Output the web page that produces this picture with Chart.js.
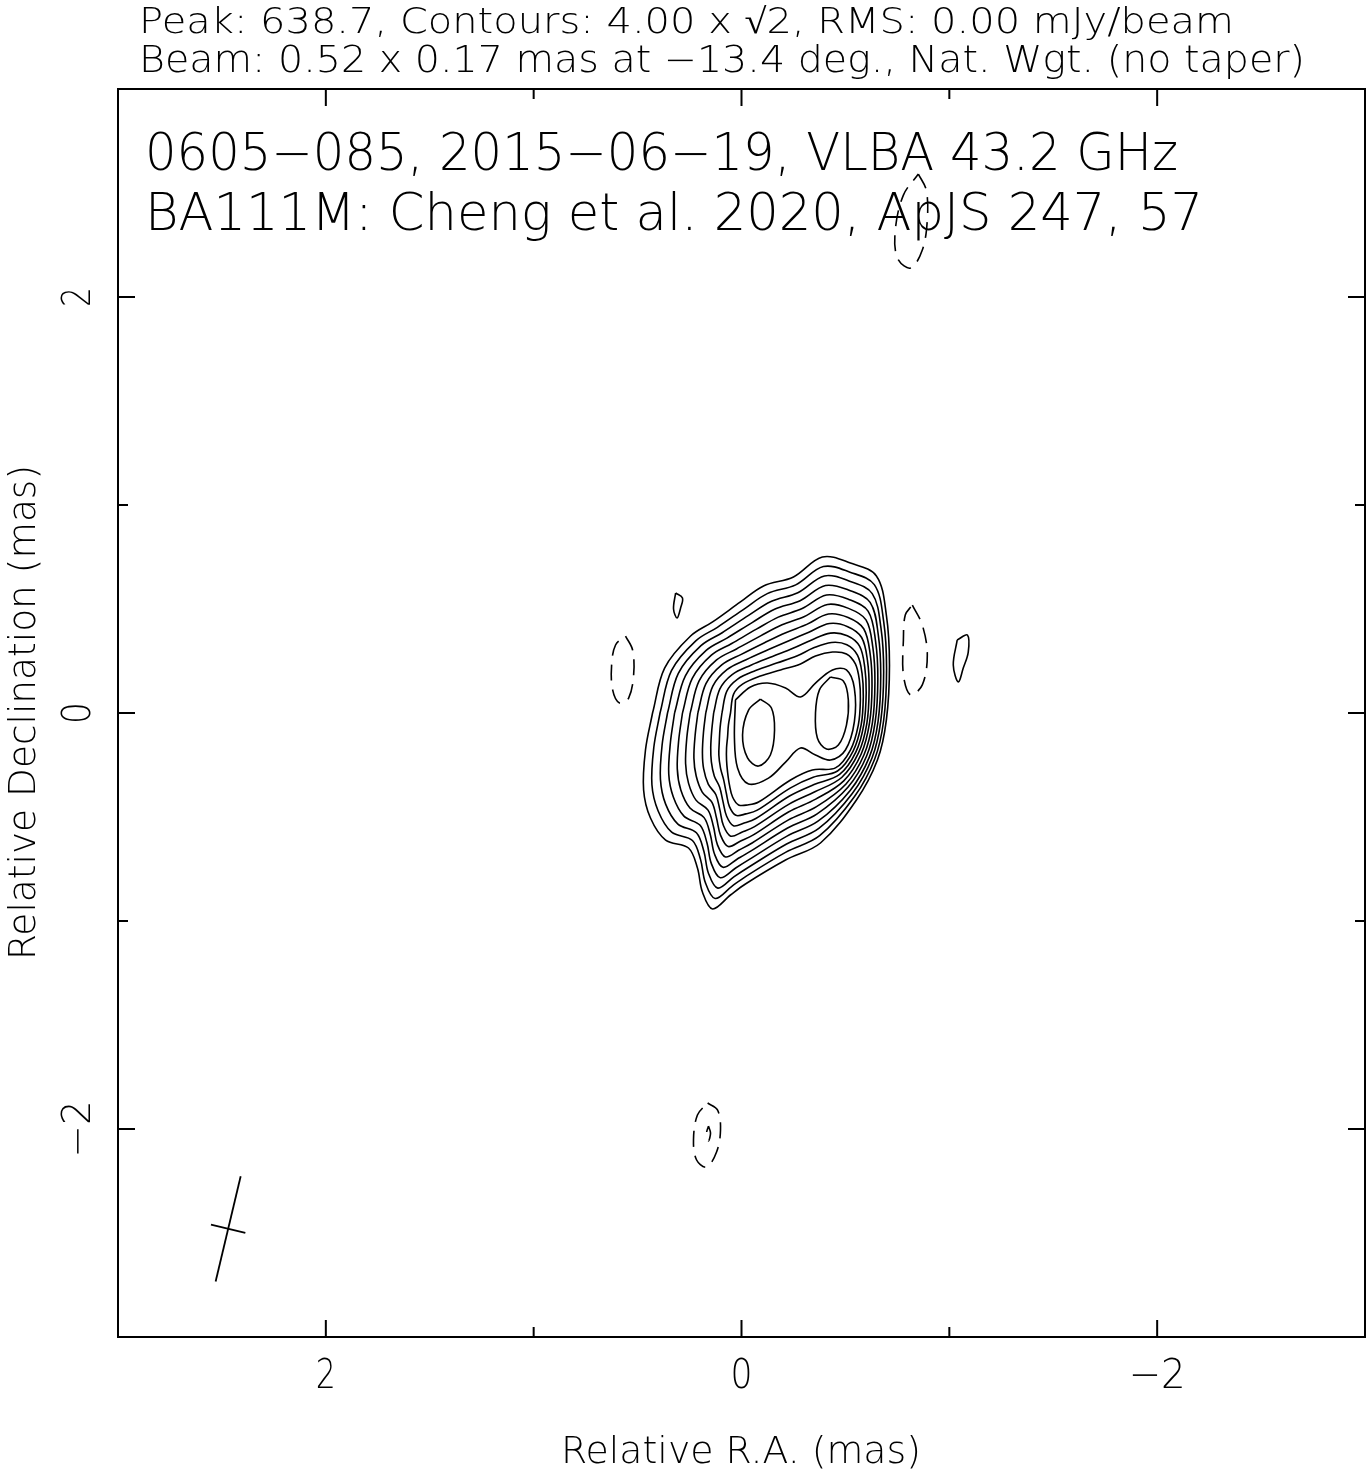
<!DOCTYPE html>
<html>
<head>
<meta charset="utf-8">
<title>0605-085 VLBA 43.2 GHz</title>
<script src="https://cdn.jsdelivr.net/npm/chart.js@4.4.1/dist/chart.umd.min.js"></script>
<style>
  html, body { margin: 0; padding: 0; background: #fff; }
  #map { display: block; }
</style>
</head>
<body>
<canvas id="map" width="1367" height="1472"></canvas>
<script>
// positive contours, outermost (4 mJy/beam) inwards; [relative R.A., relative Dec] in mas
const level01 = [[0.428,0],[0.370,0.216],[0.245,0.370],[0.139,0.438],[0.005,0.534],[-0.106,0.611],[-0.250,0.654],[-0.389,0.750],[-0.524,0.721],[-0.649,0.659],[-0.697,0.471],[-0.712,0.231],[-0.697,-0.034],[-0.654,-0.226],[-0.553,-0.418],[-0.380,-0.625],[-0.212,-0.707],[-0.019,-0.822],[0.053,-0.875],[0.139,-0.942],[0.188,-0.861],[0.212,-0.745],[0.255,-0.649],[0.365,-0.611],[0.438,-0.505],[0.471,-0.370],[0.462,-0.178]];
const level02 = [[0.392,0],[0.337,0.204],[0.220,0.347],[0.116,0.412],[-0.014,0.501],[-0.124,0.574],[-0.261,0.616],[-0.394,0.704],[-0.522,0.677],[-0.639,0.617],[-0.684,0.440],[-0.698,0.214],[-0.684,-0.036],[-0.641,-0.221],[-0.543,-0.403],[-0.376,-0.590],[-0.214,-0.669],[-0.025,-0.783],[0.045,-0.832],[0.127,-0.892],[0.174,-0.815],[0.197,-0.705],[0.236,-0.613],[0.336,-0.573],[0.401,-0.471],[0.431,-0.345],[0.422,-0.166]];
const level03 = [[0.356,0],[0.304,0.191],[0.195,0.324],[0.093,0.386],[-0.034,0.469],[-0.142,0.536],[-0.271,0.578],[-0.399,0.659],[-0.520,0.634],[-0.629,0.574],[-0.671,0.409],[-0.684,0.197],[-0.670,-0.039],[-0.628,-0.216],[-0.533,-0.387],[-0.372,-0.555],[-0.217,-0.630],[-0.032,-0.743],[0.037,-0.788],[0.114,-0.842],[0.159,-0.770],[0.181,-0.665],[0.217,-0.576],[0.306,-0.534],[0.365,-0.438],[0.390,-0.319],[0.382,-0.154]];
const level04 = [[0.322,0],[0.270,0.179],[0.170,0.301],[0.070,0.360],[-0.053,0.436],[-0.159,0.499],[-0.282,0.540],[-0.404,0.613],[-0.518,0.590],[-0.619,0.532],[-0.658,0.377],[-0.670,0.181],[-0.657,-0.041],[-0.615,-0.212],[-0.523,-0.372],[-0.368,-0.520],[-0.219,-0.592],[-0.038,-0.704],[0.028,-0.745],[0.102,-0.792],[0.145,-0.724],[0.166,-0.625],[0.199,-0.540],[0.277,-0.496],[0.328,-0.404],[0.350,-0.294],[0.342,-0.142]];
const level05 = [[0.284,0],[0.237,0.166],[0.145,0.278],[0.047,0.334],[-0.072,0.403],[-0.177,0.461],[-0.292,0.502],[-0.409,0.567],[-0.516,0.546],[-0.609,0.490],[-0.645,0.346],[-0.656,0.164],[-0.643,-0.044],[-0.602,-0.207],[-0.513,-0.356],[-0.364,-0.485],[-0.222,-0.553],[-0.044,-0.664],[0.020,-0.702],[0.089,-0.742],[0.130,-0.678],[0.150,-0.585],[0.180,-0.503],[0.248,-0.457],[0.292,-0.370],[0.309,-0.268],[0.302,-0.130]];
const level06 = [[0.247,0],[0.204,0.154],[0.120,0.255],[0.024,0.308],[-0.092,0.371],[-0.195,0.424],[-0.303,0.464],[-0.414,0.522],[-0.515,0.503],[-0.599,0.448],[-0.632,0.315],[-0.642,0.147],[-0.630,-0.046],[-0.589,-0.202],[-0.503,-0.341],[-0.361,-0.450],[-0.224,-0.515],[-0.051,-0.625],[0.012,-0.659],[0.077,-0.692],[0.116,-0.633],[0.135,-0.546],[0.161,-0.467],[0.219,-0.419],[0.255,-0.337],[0.269,-0.243],[0.263,-0.118]];
const level07 = [[0.210,0],[0.171,0.141],[0.095,0.231],[0.001,0.282],[-0.111,0.338],[-0.213,0.386],[-0.314,0.426],[-0.418,0.476],[-0.513,0.459],[-0.588,0.405],[-0.619,0.284],[-0.628,0.130],[-0.616,-0.048],[-0.576,-0.197],[-0.492,-0.326],[-0.357,-0.414],[-0.226,-0.476],[-0.057,-0.586],[0.004,-0.615],[0.064,-0.642],[0.101,-0.587],[0.120,-0.506],[0.142,-0.430],[0.189,-0.380],[0.218,-0.303],[0.229,-0.217],[0.223,-0.106]];
const level08 = [[0.172,0],[0.138,0.129],[0.070,0.208],[-0.022,0.256],[-0.130,0.305],[-0.231,0.349],[-0.324,0.388],[-0.423,0.430],[-0.511,0.415],[-0.578,0.363],[-0.606,0.253],[-0.614,0.113],[-0.603,-0.051],[-0.563,-0.192],[-0.482,-0.310],[-0.353,-0.379],[-0.229,-0.438],[-0.063,-0.546],[-0.004,-0.572],[0.052,-0.592],[0.087,-0.541],[0.104,-0.466],[0.123,-0.393],[0.160,-0.342],[0.182,-0.269],[0.188,-0.192],[0.183,-0.094]];
const level09 = [[0.134,0],[0.104,0.116],[0.045,0.185],[-0.045,0.230],[-0.149,0.272],[-0.248,0.311],[-0.335,0.350],[-0.428,0.384],[-0.509,0.371],[-0.568,0.321],[-0.593,0.221],[-0.600,0.097],[-0.589,-0.053],[-0.550,-0.188],[-0.472,-0.295],[-0.349,-0.344],[-0.231,-0.399],[-0.069,-0.507],[-0.013,-0.529],[0.039,-0.542],[0.072,-0.495],[0.089,-0.426],[0.105,-0.357],[0.131,-0.303],[0.145,-0.235],[0.148,-0.166],[0.143,-0.082]];
const level10 = [[0.094,0],[0.071,0.104],[0.020,0.162],[-0.068,0.204],[-0.169,0.240],[-0.266,0.274],[-0.345,0.312],[-0.433,0.339],[-0.507,0.328],[-0.558,0.278],[-0.580,0.190],[-0.586,0.080],[-0.576,-0.056],[-0.537,-0.183],[-0.462,-0.279],[-0.345,-0.309],[-0.234,-0.361],[-0.076,-0.467],[-0.021,-0.485],[0.027,-0.492],[0.058,-0.450],[0.073,-0.386],[0.086,-0.320],[0.101,-0.265],[0.109,-0.202],[0.107,-0.141],[0.103,-0.070]];
const level11 = [[0.053,0],[0.038,0.091],[-0.005,0.139],[-0.091,0.178],[-0.188,0.207],[-0.284,0.236],[-0.356,0.274],[-0.438,0.293],[-0.505,0.284],[-0.548,0.236],[-0.567,0.159],[-0.572,0.063],[-0.562,-0.058],[-0.524,-0.178],[-0.452,-0.264],[-0.341,-0.274],[-0.236,-0.322],[-0.082,-0.428],[-0.029,-0.442],[0.014,-0.442],[0.043,-0.404],[0.058,-0.346],[0.067,-0.284],[0.072,-0.226],[0.072,-0.168],[0.067,-0.115],[0.063,-0.058]];
// the two-lobed contour around both peaks
const level12 = [[0.029,0.063],[-0.043,0.125],[-0.125,0.144],[-0.212,0.120],[-0.284,0.077],[-0.356,0.144],[-0.438,0.207],[-0.505,0.207],[-0.543,0.120],[-0.543,-0.043],[-0.500,-0.178],[-0.428,-0.226],[-0.356,-0.202],[-0.284,-0.168],[-0.212,-0.236],[-0.130,-0.313],[-0.034,-0.341],[0.019,-0.264],[0.034,-0.120]];
const coreEast = [[-0.091,0.067],[-0.144,0.024],[-0.159,-0.082],[-0.139,-0.202],[-0.082,-0.255],[-0.029,-0.216],[-0.005,-0.106],[-0.034,0.014]];
const coreWest = [[-0.428,0.173],[-0.490,0.154],[-0.514,0.063],[-0.505,-0.058],[-0.466,-0.154],[-0.409,-0.173],[-0.365,-0.120],[-0.356,0],[-0.375,0.111]];
// small isolated 4 mJy/beam islands
const islandNE = [[0.317,0.577],[0.284,0.553],[0.293,0.505],[0.310,0.457],[0.327,0.500]];
const islandW = [[-1.038,0.351],[-1.087,0.375],[-1.091,0.293],[-1.067,0.216],[-1.043,0.149],[-1.019,0.231]];
// negative (-4 mJy/beam) contours, dashed
const negEast = [[0.558,0.370],[0.524,0.303],[0.519,0.183],[0.543,0.072],[0.587,0.048],[0.620,0.111],[0.625,0.231],[0.606,0.327]];
const negWest = [[-0.822,0.519],[-0.870,0.423],[-0.894,0.279],[-0.870,0.135],[-0.813,0.087],[-0.779,0.183],[-0.779,0.351],[-0.788,0.471]];
const negNorth = [[-0.851,2.591],[-0.889,2.514],[-0.894,2.370],[-0.870,2.226],[-0.813,2.139],[-0.750,2.188],[-0.740,2.322],[-0.779,2.490]];
const negSouth = [[0.163,-1.875],[0.115,-1.909],[0.101,-2.005],[0.120,-2.111],[0.168,-2.183],[0.216,-2.149],[0.231,-2.053],[0.212,-1.933]];
const negSouthInner = [[0.159,-1.986],[0.149,-2.019],[0.159,-2.058],[0.168,-2.019]];

// restoring beam: major, minor (mas), position angle (deg), plotted at
const beamMajor = 0.52;
const beamMinor = 0.17;
const beamPA = -13.4;
const beamCenter = [2.47, -2.48];

const majorTicks = [-2, 0, 2];
const minorTicks = [-1, 1];
const tickLabels = ['\u22122', '0', '2'];

const headerLines = [
  'Peak: 638.7, Contours: 4.00 x \u221A2, RMS: 0.00 mJy/beam',
  'Beam: 0.52 x 0.17 mas at \u221213.4 deg., Nat. Wgt. (no taper)'
];
const mapLabels = [
  '0605\u2212085, 2015\u221206\u221219, VLBA 43.2 GHz',
  'BA111M: Cheng et al. 2020, ApJS 247, 57'
];
const xTitle = 'Relative R.A. (mas)';
const yTitle = 'Relative Declination (mas)';

const toXY = pts => pts.map(([x, y]) => ({ x, y }));
const loop = pts => toXY(pts.concat([pts[0]]));

function contour(pts, dashed) {
  return {
    data: loop(pts),
    showLine: true,
    borderColor: '#000',
    borderWidth: 1.6,
    borderDash: dashed ? [16, 9] : [],
    pointRadius: 0,
    tension: 0.35,
    fill: false
  };
}

function beamLines() {
  const t = beamPA * Math.PI / 180;
  const [cx, cy] = beamCenter;
  const a = beamMajor / 2, b = beamMinor / 2;
  const major = [[cx + a * Math.sin(t), cy + a * Math.cos(t)], [cx - a * Math.sin(t), cy - a * Math.cos(t)]];
  const minor = [[cx + b * Math.cos(t), cy - b * Math.sin(t)], [cx - b * Math.cos(t), cy + b * Math.sin(t)]];
  return [major, minor].map(seg => ({
    data: toXY(seg), showLine: true, borderColor: '#000', borderWidth: 1.8,
    pointRadius: 0, tension: 0, fill: false
  }));
}

const positive = [level01, level02, level03, level04, level05, level06, level07, level08,
  level09, level10, level11, level12, coreEast, coreWest, islandNE, islandW];
const negative = [negEast, negWest, negNorth, negSouth, negSouthInner];

const FONT = '"DejaVu Sans"';

// draw text stretched to the width it has in the original plot
function fitText(ctx, str, x, y, width, cap, rot) {
  const size = cap / 0.73;
  ctx.save();
  ctx.font = '200 ' + size + 'px ' + FONT;
  ctx.fillStyle = '#000';
  ctx.textBaseline = 'alphabetic';
  ctx.textAlign = 'left';
  const w = ctx.measureText(str).width;
  ctx.translate(x, y);
  if (rot) ctx.rotate(rot);
  ctx.scale(width / w, 1);
  ctx.fillText(str, 0, 0);
  ctx.restore();
}

const framePlugin = {
  id: 'frame',
  afterDraw(chart) {
    const { ctx, chartArea: area, scales } = chart;
    const xs = scales.x, ys = scales.y;
    ctx.save();
    ctx.strokeStyle = '#000';
    ctx.lineWidth = 2;
    ctx.strokeRect(area.left, area.top, area.right - area.left, area.bottom - area.top);

    const tick = (v, len) => {
      const px = xs.getPixelForValue(v);
      const py = ys.getPixelForValue(v);
      ctx.beginPath();
      ctx.moveTo(px, area.bottom); ctx.lineTo(px, area.bottom - len);
      ctx.moveTo(px, area.top); ctx.lineTo(px, area.top + len);
      ctx.moveTo(area.left, py); ctx.lineTo(area.left + len, py);
      ctx.moveTo(area.right, py); ctx.lineTo(area.right - len, py);
      ctx.stroke();
    };
    majorTicks.forEach(v => tick(v, 17));
    minorTicks.forEach(v => tick(v, 10));
    ctx.restore();

    const labelWidths = { '\u22122': 57, '0': 22, '2': 20 };
    majorTicks.forEach((v, i) => {
      const s = tickLabels[i];
      const w = labelWidths[s];
      fitText(ctx, s, xs.getPixelForValue(v) - w / 2, 1388, w, 30);
      fitText(ctx, s, 90, ys.getPixelForValue(v) + w / 2, w, 28, -Math.PI / 2);
    });

    fitText(ctx, xTitle, 561, 1463, 360, 27);
    fitText(ctx, yTitle, 35, 960, 495, 27, -Math.PI / 2);

    fitText(ctx, headerLines[0], 139, 33, 1095, 26);
    fitText(ctx, headerLines[1], 139, 72, 1166, 27);
    fitText(ctx, mapLabels[0], 145, 170, 1033, 37);
    fitText(ctx, mapLabels[1], 145, 230, 1058, 37);
  }
};

new Chart(document.getElementById('map'), {
  type: 'scatter',
  data: {
    datasets: [
      ...positive.map(p => contour(p, false)),
      ...negative.map(p => contour(p, true)),
      ...beamLines()
    ]
  },
  options: {
    responsive: false,
    devicePixelRatio: 1,
    animation: false,
    layout: { padding: { left: 118, right: 2, top: 89, bottom: 135 } },
    plugins: { legend: { display: false }, tooltip: { enabled: false } },
    scales: {
      x: { type: 'linear', min: -3, max: 3, reverse: true, display: false },
      y: { type: 'linear', min: -3, max: 3, display: false }
    }
  },
  plugins: [framePlugin]
});
</script>
</body>
</html>
